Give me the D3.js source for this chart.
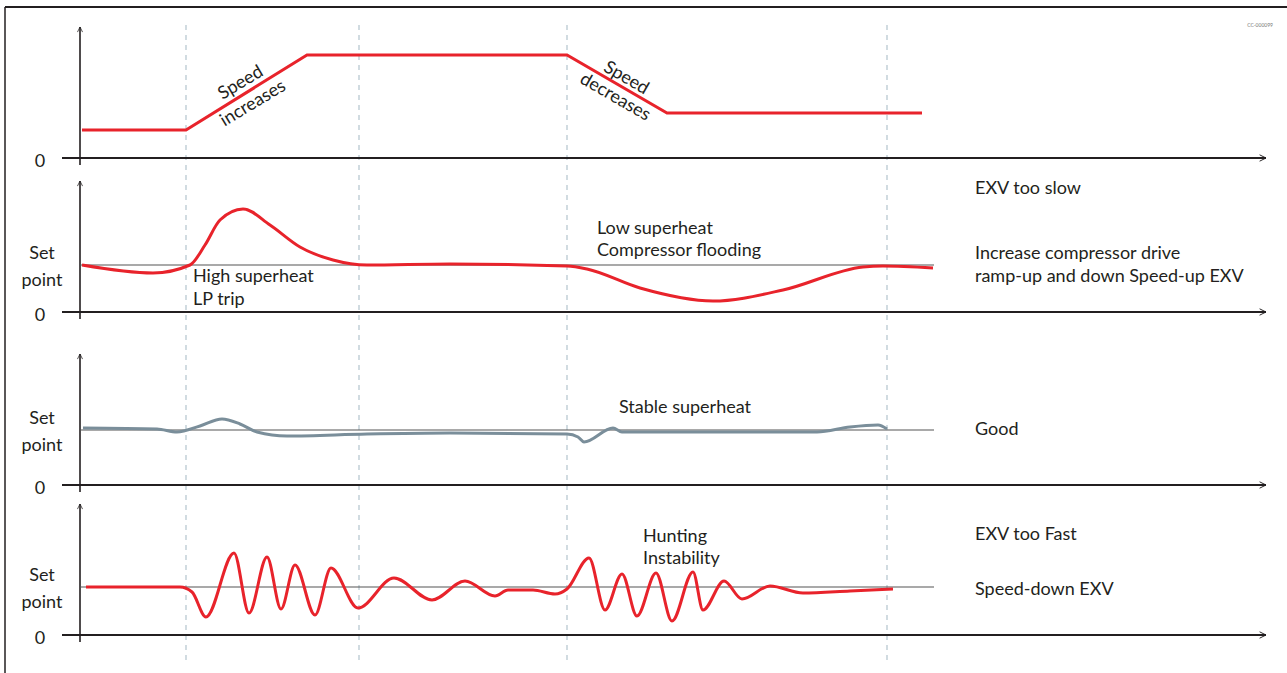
<!DOCTYPE html>
<html>
<head>
<meta charset="utf-8">
<script src="https://cdn.jsdelivr.net/npm/d3@7"></script>
<style>
  body { margin: 0; background: #fff; }
  svg text { font-family: Lato, "Open Sans", sans-serif; fill: #231f20; }
</style>
</head>
<body>
<div id="chart"></div>
<script>
// time in arbitrary units from the y-axis, values measured up from each panel's zero line
const eventTimes = [106, 279, 487, 807];

const speedProfile = [[2, 28], [106, 28], [227, 103], [487, 103], [587, 45], [842, 45]];

const slowResponse = [
  [2, 47], [73, 39], [110, 47], [125, 67], [140, 92], [163, 103], [190, 87],
  [220, 65], [253, 52], [287, 47], [370, 48], [487, 46], [507, 43], [560, 24],
  [633, 11], [703, 22], [783, 45], [803, 46], [853, 44]
];

const goodResponse = [
  [3, 57], [77, 56], [97, 53], [120, 59], [142, 66], [160, 61], [177, 53],
  [207, 49], [287, 51], [370, 52], [487, 51], [498, 48], [504, 43], [533, 57],
  [542, 53], [737, 53], [770, 58], [798, 60], [807, 56]
];

const fastResponse = [
  [6, 48], [100, 48], [112, 43], [126, 18], [154, 82], [169, 22], [187, 78],
  [201, 26], [215, 70], [235, 20], [251, 67], [278, 27], [314, 57], [352, 35],
  [385, 54], [415, 39], [428, 45], [453, 45], [475, 41], [487, 46], [509, 77],
  [525, 25], [542, 61], [557, 19], [576, 62], [592, 14], [613, 63], [623, 25],
  [644, 54], [662, 36], [690, 49], [723, 42], [770, 44], [813, 46]
];

const setPoints = [null, 47, 55, 48];
const rightNotes = [
  ["EXV too slow", "Increase compressor drive", "ramp-up and down Speed-up EXV"],
  ["Good"],
  ["EXV too Fast", "Speed-down EXV"]
];

const width = 1287;
const height = 673;
const axisY = [158, 312, 485, 635];
const axisTop = 131;

const svg = d3.select("#chart").append("svg")
  .attr("width", width)
  .attr("height", height);

const defs = svg.append("defs");
defs.append("marker")
  .attr("id", "arrow")
  .attr("viewBox", "0 0 10 10")
  .attr("refX", 9).attr("refY", 5)
  .attr("markerWidth", 4).attr("markerHeight", 4)
  .attr("orient", "auto")
  .attr("markerUnits", "strokeWidth")
  .append("path")
  .attr("d", "M1,1 L9,5 L1,9")
  .attr("fill", "none")
  .attr("stroke", "#231f20")
  .attr("stroke-width", 1.2);

// frame
svg.append("line").attr("x1", 5).attr("x2", width).attr("y1", 7).attr("y2", 7)
  .attr("stroke", "#231f20").attr("stroke-width", 2);
svg.append("line").attr("x1", 5).attr("x2", 5).attr("y1", 7).attr("y2", height)
  .attr("stroke", "#231f20").attr("stroke-width", 1.5);

svg.append("text")
  .attr("x", 1273).attr("y", 27)
  .attr("text-anchor", "end")
  .attr("font-size", 5)
  .style("fill", "#777")
  .text("CC-000099");

const x = d3.scaleLinear().domain([0, 1186]).range([80, 1266]);
const yScales = axisY.map((a) => d3.scaleLinear().domain([0, axisTop]).range([a, a - axisTop]));

// dashed event markers
svg.append("g").selectAll("line")
  .data(eventTimes)
  .join("line")
  .attr("x1", (d) => x(d)).attr("x2", (d) => x(d))
  .attr("y1", 25).attr("y2", 660)
  .attr("stroke", "#b9c9d2")
  .attr("stroke-width", 1.3)
  .attr("stroke-dasharray", "5,5");

// axes
axisY.forEach((a, i) => {
  const y = yScales[i];
  const g = svg.append("g");
  g.append("line")
    .attr("x1", x(-18)).attr("x2", x(1186))
    .attr("y1", y(0)).attr("y2", y(0))
    .attr("stroke", "#231f20").attr("stroke-width", 2)
    .attr("marker-end", "url(#arrow)");
  g.append("line")
    .attr("x1", x(0)).attr("x2", x(0))
    .attr("y1", y(-7)).attr("y2", y(axisTop))
    .attr("stroke", "#231f20").attr("stroke-width", 1.6)
    .attr("marker-end", "url(#arrow)");
  g.append("text")
    .attr("x", 40).attr("y", y(0) + 9)
    .attr("text-anchor", "middle")
    .attr("font-size", 18)
    .text("0");
  if (setPoints[i] != null) {
    const sp = setPoints[i];
    g.append("line")
      .attr("x1", x(0)).attr("x2", x(854))
      .attr("y1", y(sp)).attr("y2", y(sp))
      .attr("stroke", "#555").attr("stroke-width", 1.2);
    g.append("text").attr("x", 42).attr("y", y(sp) - 6)
      .attr("text-anchor", "middle").attr("font-size", 18).text("Set");
    g.append("text").attr("x", 42).attr("y", y(sp) + 21)
      .attr("text-anchor", "middle").attr("font-size", 18).text("point");
  }
});

const lineFor = (y, curve) => d3.line()
  .x((d) => x(d[0]))
  .y((d) => y(d[1]))
  .curve(curve);

svg.append("path")
  .attr("d", lineFor(yScales[0], d3.curveLinear)(speedProfile))
  .attr("fill", "none").attr("stroke", "#e8232b").attr("stroke-width", 3);

svg.append("path")
  .attr("d", lineFor(yScales[1], d3.curveMonotoneX)(slowResponse))
  .attr("fill", "none").attr("stroke", "#e8232b").attr("stroke-width", 3);

svg.append("path")
  .attr("d", lineFor(yScales[2], d3.curveMonotoneX)(goodResponse))
  .attr("fill", "none").attr("stroke", "#7a8e9a").attr("stroke-width", 3);

svg.append("path")
  .attr("d", lineFor(yScales[3], d3.curveMonotoneX)(fastResponse))
  .attr("fill", "none").attr("stroke", "#e8232b").attr("stroke-width", 3);

// slanted speed labels, one line above the ramp and one below
const slanted = (cx, cy, angle, lines, offsets) => {
  const t = svg.append("text")
    .attr("transform", `translate(${cx},${cy}) rotate(${angle})`)
    .attr("text-anchor", "middle")
    .attr("font-size", 18);
  lines.forEach((s, k) => t.append("tspan").attr("x", 0).attr("y", offsets[k]).text(s));
};
slanted(x(166.5), yScales[0](65.5), -31, ["Speed", "increases"], [-6, 18]);
slanted(x(541), yScales[0](71), 30, ["Speed", "decreases"], [-5, 17]);

// in-chart notes
const note = (px, py, lines, step) => {
  const t = svg.append("text").attr("x", px).attr("y", py).attr("font-size", 18);
  lines.forEach((s, k) => t.append("tspan").attr("x", px).attr("dy", k === 0 ? 0 : step).text(s));
};
note(x(113), yScales[1](30), ["High superheat", "LP trip"], 23);
note(x(517), yScales[1](78), ["Low superheat", "Compressor flooding"], 22);
note(x(539), yScales[2](72), ["Stable superheat"], 22);
note(x(563), yScales[3](93), ["Hunting", "Instability"], 22);

// right-hand verdicts
note(975, 194, [rightNotes[0][0]], 0);
note(975, 259, rightNotes[0].slice(1), 23);
note(975, 435, rightNotes[1], 0);
note(975, 540, [rightNotes[2][0]], 0);
note(975, 595, [rightNotes[2][1]], 0);
</script>
</body>
</html>
